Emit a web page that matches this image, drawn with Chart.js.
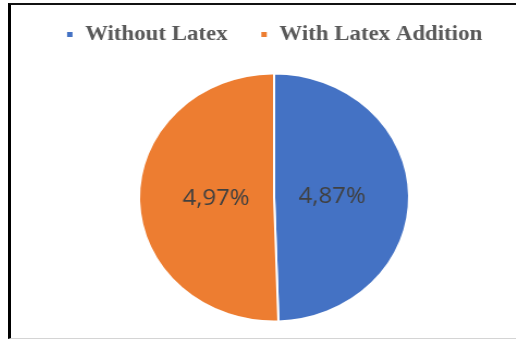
<!DOCTYPE html>
<html>
<head>
<meta charset="utf-8">
<script src="https://cdn.jsdelivr.net/npm/chart.js@4/dist/chart.umd.min.js"></script>
<style>
  html, body { margin: 0; padding: 0; background: #fff; width: 516px; height: 340px; overflow: hidden; }
  #frame { position: absolute; left: 8px; top: 3px; width: 600px; height: 333px;
           border-left: 3px solid #000; border-top: 2px solid #111; border-bottom: 1px solid #d4d4d4; }
  #wrap { position: absolute; left: 16px; top: -6px; width: 474px; height: 346px;
          transform: scaleX(1.089); transform-origin: 0 0; }
</style>
</head>
<body>
<div id="frame"></div>
<div id="wrap"><canvas id="c" width="474" height="346"></canvas></div>
<script>
const categories = ['Without Latex', 'With Latex Addition'];
const values = [4.87, 4.97];

const sliceColors = ['#4472C4', '#ED7D31'];
const fmt = v => v.toFixed(2).replace('.', ',') + '%';

const labelPlugin = {
  id: 'valueLabels',
  afterDatasetsDraw(chart) {
    const ctx = chart.ctx;
    const meta = chart.getDatasetMeta(0);
    meta.data.forEach((arc, i) => {
      const p = arc.getProps(['x', 'y', 'startAngle', 'endAngle', 'outerRadius'], true);
      const mid = (p.startAngle + p.endAngle) / 2;
      const r = p.outerRadius * 0.43;
      ctx.save();
      ctx.font = '22px "Open Sans"';
      ctx.fillStyle = '#404040';
      ctx.textAlign = 'center';
      ctx.textBaseline = 'middle';
      ctx.fillText(fmt(values[i]), p.x + Math.cos(mid) * r, p.y + Math.sin(mid) * r);
      ctx.restore();
    });
  }
};

new Chart(document.getElementById('c'), {
  type: 'pie',
  data: {
    labels: categories,
    datasets: [{
      data: values,
      backgroundColor: sliceColors,
      borderColor: '#ffffff',
      borderWidth: 2,
      radius: 124
    }]
  },
  options: {
    responsive: false,
    devicePixelRatio: 1,
    animation: false,
    layout: { padding: 0 },
    plugins: {
      legend: {
        position: 'top',
        labels: {
          boxWidth: 7,
          boxHeight: 7,
          padding: 30,
          color: '#595959',
          font: { family: 'Liberation Serif', size: 21, weight: 'bold' }
        }
      },
      tooltip: { enabled: false }
    }
  },
  plugins: [labelPlugin]
});
</script>
</body>
</html>
